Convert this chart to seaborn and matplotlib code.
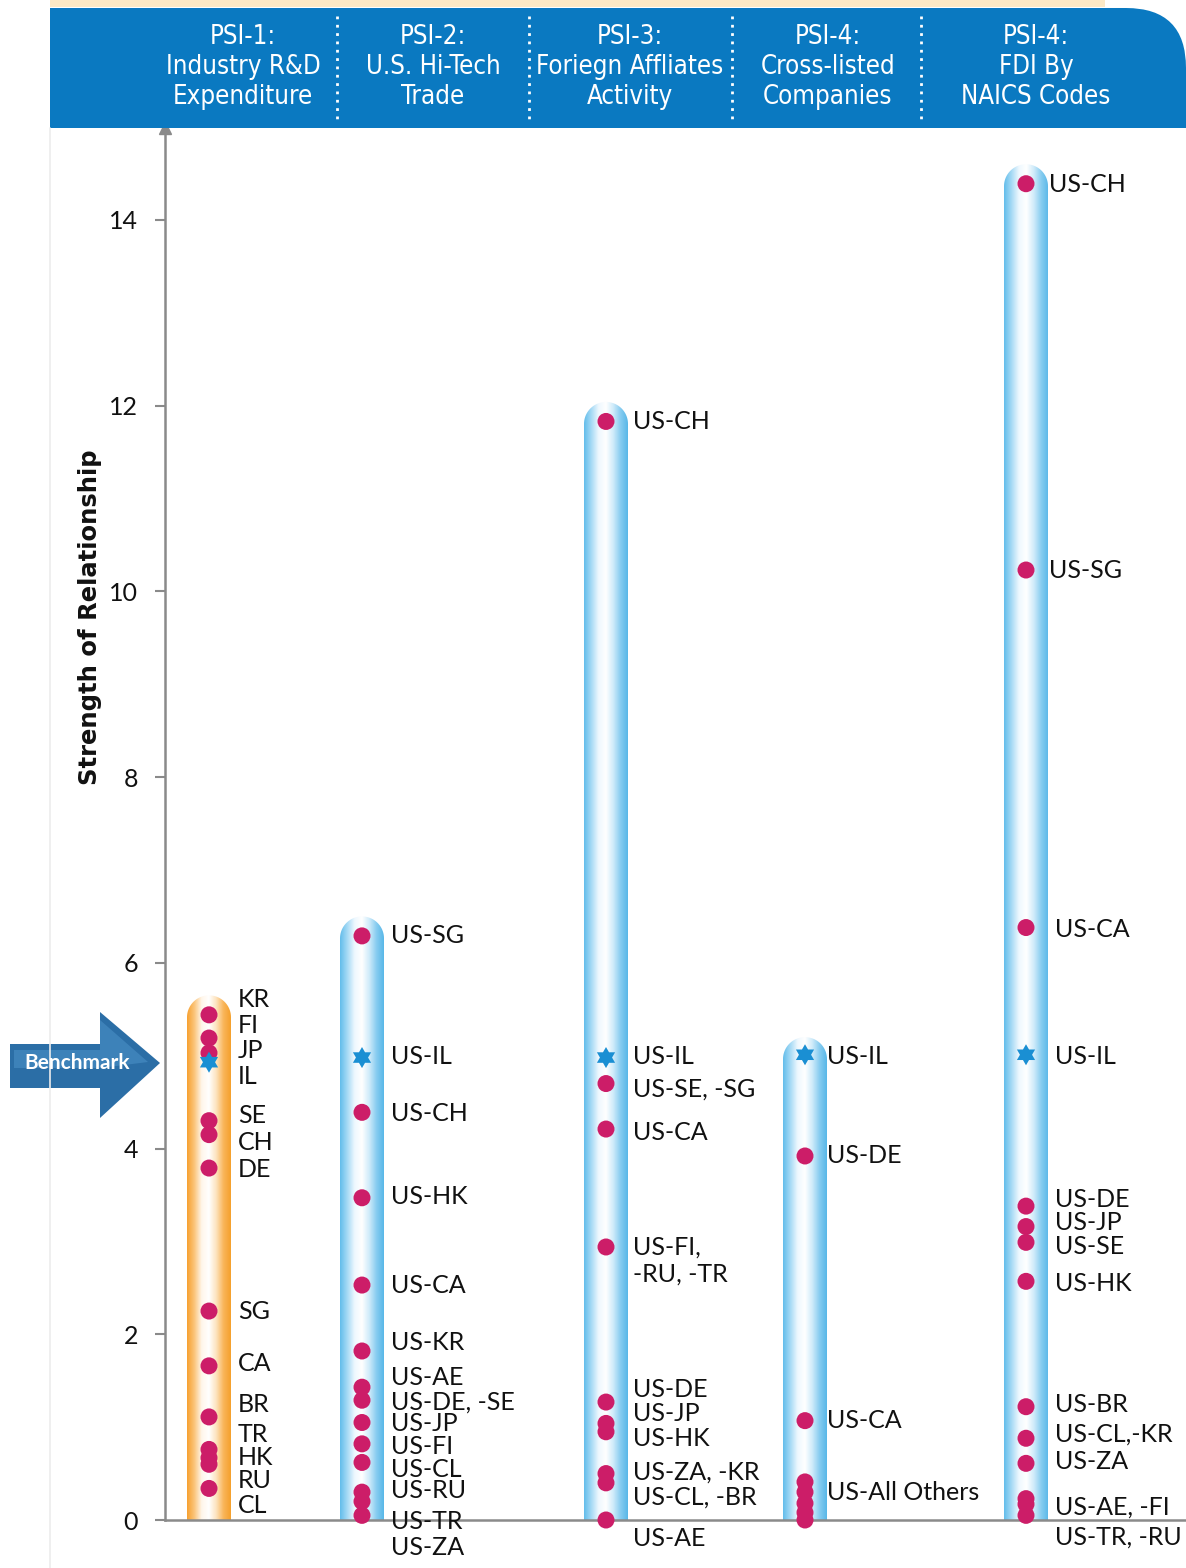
import numpy as np
import pandas as pd
import matplotlib
matplotlib.use("Agg")
import matplotlib.pyplot as plt
import seaborn as sns
from matplotlib import font_manager as fm
from matplotlib.path import Path
from matplotlib.patches import PathPatch, Polygon, Rectangle
from matplotlib.colors import LinearSegmentedColormap
from matplotlib.lines import Line2D

# ------------------------------------------------------------------ data
headers = ["PSI-1:\nIndustry R&D\nExpenditure",
           "PSI-2:\nU.S. Hi-Tech\nTrade",
           "PSI-3:\nForiegn Affliates\nActivity",
           "PSI-4:\nCross-listed\nCompanies",
           "PSI-4:\nFDI By\nNAICS Codes"]

col_top = [5.65, 6.50, 12.04, 5.20, 14.60]
benchmark = [4.93, 4.98, 4.98, 5.01, 5.01]

psi1_vals = [5.44, 5.19, 5.03, 4.30, 4.15, 3.79, 2.25, 1.66, 1.11, 0.76, 0.67, 0.60, 0.34]
psi2_vals = [6.29, 4.39, 3.47, 2.53, 1.82, 1.43, 1.29, 1.05, 0.82, 0.62, 0.30, 0.20, 0.05]
psi3_vals = [11.83, 4.70, 4.21, 2.94, 1.27, 1.04, 0.95, 0.50, 0.40, 0.00]
psi4_vals = [3.92, 1.07, 0.41, 0.30, 0.18, 0.08, 0.00]
psi5_vals = [14.39, 10.23, 6.38, 3.38, 3.16, 2.99, 2.57, 1.22, 0.88, 0.61, 0.23, 0.17, 0.05]

psi1_labels = ["KR", "FI", "JP", "IL", "SE", "CH", "DE", "SG", "CA", "BR", "TR", "HK", "RU", "CL"]
psi1_label_y = [5.61, 5.32, 5.06, 4.78, 4.36, 4.06, 3.77, 2.24, 1.68, 1.24, 0.92, 0.67, 0.43, 0.16]

psi2_labels = ["US-SG", "US-IL", "US-CH", "US-HK", "US-CA", "US-KR", "US-AE", "US-DE, -SE",
               "US-JP", "US-FI", "US-CL", "US-RU", "US-TR", "US-ZA"]
psi2_label_y = [6.29, 4.99, 4.38, 3.48, 2.53, 1.91, 1.53, 1.27, 1.04, 0.79, 0.54, 0.32, -0.02, -0.30]

psi3_labels = ["US-CH", "US-IL", "US-SE, -SG", "US-CA", "US-FI,", "-RU, -TR", "US-DE", "US-JP",
               "US-HK", "US-ZA, -KR", "US-CL, -BR", "US-AE"]
psi3_label_y = [11.83, 4.99, 4.64, 4.17, 2.94, 2.65, 1.40, 1.15, 0.88, 0.52, 0.25, -0.20]

psi4_labels = ["US-IL", "US-DE", "US-CA", "US-All Others"]
psi4_label_y = [4.99, 3.92, 1.07, 0.30]

psi5_labels = ["US-CH", "US-SG", "US-CA", "US-IL", "US-DE", "US-JP", "US-SE", "US-HK", "US-BR",
               "US-CL,-KR", "US-ZA", "US-AE, -FI", "US-TR, -RU"]
psi5_label_y = [14.38, 10.23, 6.36, 4.99, 3.45, 3.20, 2.94, 2.55, 1.24, 0.92, 0.63, 0.14, -0.18]

y_ticks = [0, 2, 4, 6, 8, 10, 12, 14]

# ------------------------------------------------------------------ layout / style
W, H, DPI = 1186, 1568, 100
col_x = [0.44, 1.97, 4.41, 6.40, 8.61]        # column centres (axis units, 1 unit = 100 px)
label_dx = [0.29, 0.29, 0.27, 0.22, 0.29]
label_dx_top5 = 0.23                          # first two labels of last column sit closer
half_w = 0.22
GRAY = "#8a8a8a"
DOT = "#CC1D68"
STAR = "#1A8FD3"
BLUE_HDR = "#0A79C1"
FONT = ["Lato", "DejaVu Sans"]

sns.set_style("white")
plt.rcParams["font.family"] = FONT

# find an upright condensed / narrow face for the header, if one is installed
cond_prop = None
cands = []
for f in fm.fontManager.ttflist:
    nm = f.name.lower()
    st = str(f.stretch).lower()
    if ("narrow" in nm or "condensed" in nm or "condensed" in st) and f.style == "normal":
        w = f.weight if isinstance(f.weight, int) else 400
        cands.append((abs(w - 450), f))
if cands:
    cands.sort(key=lambda c: c[0])
    cond_prop = cands[0][1]
if cond_prop is not None:
    hdr_font = dict(fontproperties=fm.FontProperties(fname=cond_prop.fname, size=18.5))
    hdr_ls = 1.22
else:
    hdr_font = dict(family=["Lato", "DejaVu Sans"], fontsize=16)
    hdr_ls = 1.3

fig = plt.figure(figsize=(W / DPI, H / DPI), dpi=DPI)


def fx(px):
    return px / W


def fy(py):
    return 1 - py / H


ax = fig.add_axes([fx(165), fy(1520), (W - 165) / W, (1520 - 128) / H])
ax.set_xlim(0, 10.21)
ax.set_ylim(0, 14.99)
ax.patch.set_alpha(0)

px_per_x = (W - 165) / 10.21
px_per_y = (1520 - 128) / 14.99
r_y = half_w * px_per_x / px_per_y

orange_cmap = LinearSegmentedColormap.from_list(
    "o", ["#F7A030", "#FBC57A", "#FFF6EA", "#FFFFFF", "#FDE3BE", "#F9B559", "#F5A02C"])
blue_cmap = LinearSegmentedColormap.from_list(
    "b", ["#62BDEB", "#A6DAF5", "#EEF8FE", "#FFFFFF", "#CFEBFA", "#86CCF0", "#58B7E8"])
grad = np.linspace(0, 1, 256).reshape(1, -1)

for i, (cx, top) in enumerate(zip(col_x, col_top)):
    t = np.linspace(0, np.pi, 40)
    arc_x = cx + half_w * np.cos(t)
    arc_y = top - r_y + r_y * np.sin(t)
    verts = [(cx - half_w, 0), (cx + half_w, 0)] + list(zip(arc_x, arc_y)) + [(cx - half_w, 0)]
    codes = [Path.MOVETO] + [Path.LINETO] * (len(verts) - 2) + [Path.CLOSEPOLY]
    patch = PathPatch(Path(verts, codes), transform=ax.transData, facecolor="none", edgecolor="none")
    ax.add_patch(patch)
    im = ax.imshow(grad, extent=[cx - half_w, cx + half_w, 0, top], aspect="auto",
                   cmap=orange_cmap if i == 0 else blue_cmap, zorder=1, interpolation="bilinear")
    im.set_clip_path(patch)

ax.set_xlim(0, 10.21)
ax.set_ylim(0, 14.99)

# points
all_vals = [psi1_vals, psi2_vals, psi3_vals, psi4_vals, psi5_vals]
df = pd.DataFrame({"x": np.concatenate([[col_x[i]] * len(v) for i, v in enumerate(all_vals)]),
                   "value": np.concatenate(all_vals)})
sns.scatterplot(data=df, x="x", y="value", color=DOT, s=150, edgecolor="none",
                ax=ax, zorder=4, clip_on=False, legend=False)

ang = np.deg2rad(90 + 30 * np.arange(12))
rad = np.where(np.arange(12) % 2 == 0, 1.0, 0.577)
star_marker = list(zip(rad * np.cos(ang), rad * np.sin(ang)))
bdf = pd.DataFrame({"x": col_x, "value": benchmark})
sns.scatterplot(data=bdf, x="x", y="value", color=STAR, marker=star_marker, s=230,
                edgecolor="none", ax=ax, zorder=5, clip_on=False, legend=False)

# labels
all_labels = [(psi1_labels, psi1_label_y), (psi2_labels, psi2_label_y), (psi3_labels, psi3_label_y),
              (psi4_labels, psi4_label_y), (psi5_labels, psi5_label_y)]
for i, (labs, ys) in enumerate(all_labels):
    for j, (lab, yv) in enumerate(zip(labs, ys)):
        dx = label_dx_top5 if (i == 4 and j < 2) else label_dx[i]
        ax.text(col_x[i] + dx, yv, lab, ha="left", va="center", fontsize=18,
                color="#111111", clip_on=False, zorder=6)

# axes styling
ax.set_xlabel("")
ax.set_ylabel("")
ax.set_xticks([])
ax.set_yticks(y_ticks)
ax.set_yticklabels([str(v) for v in y_ticks])
ax.tick_params(axis="y", direction="out", length=7.5, width=1.5, color=GRAY, pad=12,
               labelsize=18, labelcolor="#111111", left=True)
for s in ["top", "right"]:
    ax.spines[s].set_visible(False)
for s in ["left", "bottom"]:
    ax.spines[s].set_color(GRAY)
    ax.spines[s].set_linewidth(1.8)
ax.plot([0], [1], marker="^", color=GRAY, markersize=9, transform=ax.transAxes, clip_on=False)

# y label
fig.text(fx(90), fy(617), "Strength of Relationship", rotation=90, ha="center", va="center",
         fontsize=17.5, fontweight="bold", color="#111111", family=["DejaVu Sans"])

# faint page edge
fig.add_artist(Line2D([fx(50), fx(50)], [fy(128), 0], color="#ececec", lw=1.2))

# header
fig.add_artist(Rectangle((fx(50), fy(7)), fx(1105) - fx(50), fy(0) - fy(7), transform=fig.transFigure,
                         facecolor="#FCE9C6", edgecolor="none"))
hverts = [(50, 128), (50, 8), (1126, 8), (1186, 8), (1186, 68), (1186, 128), (50, 128)]
hcodes = [Path.MOVETO, Path.LINETO, Path.LINETO, Path.CURVE3, Path.CURVE3, Path.LINETO, Path.CLOSEPOLY]
fig.add_artist(PathPatch(Path([(fx(a), fy(b)) for a, b in hverts], hcodes), transform=fig.transFigure,
                         facecolor=BLUE_HDR, edgecolor="none"))
hdr_x = [243, 433, 630, 828, 1036]
for hx, txt in zip(hdr_x, headers):
    fig.text(fx(hx), fy(67), txt, ha="center", va="center", color="white",
             linespacing=hdr_ls, **hdr_font)
for sx in [337, 529, 732, 921]:
    fig.add_artist(Line2D([fx(sx), fx(sx)], [fy(16), fy(120)], color="white", lw=2,
                          linestyle=(0, (1, 2))))

# benchmark arrow
arrow_pts = [(10, 1044), (100, 1044), (100, 1012), (160, 1063), (100, 1118), (100, 1088), (10, 1088)]
fig.add_artist(Polygon([(fx(a), fy(b)) for a, b in arrow_pts], closed=True, transform=fig.transFigure,
                       facecolor="#2B6EA6", edgecolor="none"))
hl_pts = [(14, 1050), (100, 1050), (100, 1020), (148, 1062), (100, 1068), (14, 1068)]
fig.add_artist(Polygon([(fx(a), fy(b)) for a, b in hl_pts], closed=True, transform=fig.transFigure,
                       facecolor="#4A90C6", edgecolor="none", alpha=0.6))
fig.text(fx(77), fy(1063), "Benchmark", ha="center", va="center", color="white", fontsize=15,
         fontweight="bold", family=FONT)

fig.savefig("out.png", dpi=DPI)
